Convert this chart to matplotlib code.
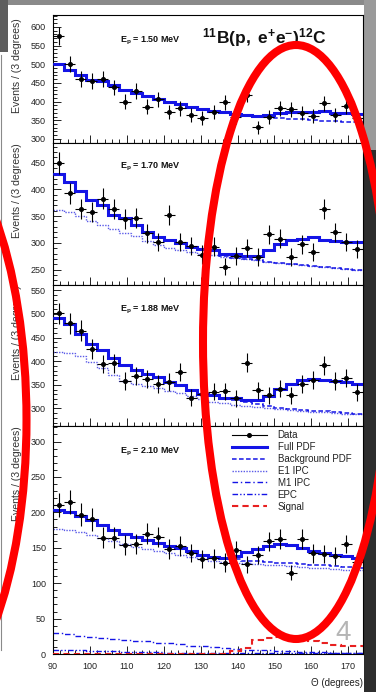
import numpy as np
import matplotlib
matplotlib.use('Agg')
import matplotlib.pyplot as plt
from matplotlib.patches import Ellipse, Rectangle
from matplotlib.lines import Line2D
from matplotlib.ticker import MultipleLocator
from matplotlib.transforms import Bbox, TransformedBbox

plt.rcParams['font.family'] = ['Liberation Sans', 'DejaVu Sans']
plt.rcParams['mathtext.fontset'] = 'custom'
plt.rcParams['mathtext.rm'] = 'Liberation Sans'
plt.rcParams['mathtext.it'] = 'Liberation Sans:italic'
plt.rcParams['mathtext.bf'] = 'Liberation Sans:bold'

# datos (centros de bin de 3 grados)
theta = [91.5, 94.5, 97.5, 100.5, 103.5, 106.5, 109.5, 112.5, 115.5, 118.5,
         121.5, 124.5, 127.5, 130.5, 133.5, 136.5, 139.5, 142.5, 145.5, 148.5,
         151.5, 154.5, 157.5, 160.5, 163.5, 166.5, 169.5, 172.5]
energies = ['1.50', '1.70', '1.88', '2.10']

data_150 = [575, 500, 460, 456, 461, 438, 400, 429, 386, 406, 373, 382, 364, 357,
            373, 398, 360, 418, 331, 358, 382, 379, 369, 361, 395, 364, 388, 355]
err_150 = [24, 22, 21, 21, 21, 21, 20, 21, 20, 20, 19, 20, 19, 19,
           19, 20, 19, 20, 18, 19, 20, 19, 19, 19, 20, 19, 20, 19]
full_150 = [501, 485, 471, 458, 456, 445, 431, 422, 415, 407, 400, 393, 386, 379,
            376, 373, 366, 363, 361, 364, 370, 372, 373, 372, 374, 370, 370, 367]
bkg_150 = [501, 485, 471, 458, 456, 445, 431, 422, 415, 407, 400, 393, 386, 379,
           376, 373, 366, 362, 360, 358, 357, 354, 352, 350, 349, 347, 346, 345]

data_170 = [450, 393, 364, 358, 383, 364, 344, 346, 318, 302, 352, 301, 294, 278,
            293, 255, 275, 291, 274, 316, 308, 273, 297, 283, 363, 320, 302, 288]
err_170 = [21, 20, 19, 19, 20, 19, 19, 19, 18, 17, 19, 17, 17, 17,
           17, 16, 17, 17, 17, 18, 18, 17, 17, 17, 19, 18, 17, 17]
full_170 = [429, 414, 398, 380, 371, 352, 346, 333, 321, 310, 305, 299, 293, 288,
            287, 279, 279, 275, 275, 286, 297, 305, 308, 310, 306, 304, 302, 301]
bkg_170 = [429, 414, 398, 380, 371, 352, 346, 333, 321, 310, 305, 299, 293, 288,
           287, 276, 272, 269, 267, 265, 263, 261, 259, 257, 255, 253, 251, 250]
e1_170 = [362, 358, 350, 341, 334, 325, 319, 312, 303, 296, 291, 287, 283, 279,
          277, 274, 272, 269, 267, 265, 263, 261, 259, 257, 255, 253, 251, 250]

data_188 = [501, 480, 464, 425, 394, 396, 358, 368, 362, 351, 356, 377, 323, 330,
            335, 336, 322, 397, 339, 328, 342, 328, 352, 360, 391, 358, 365, 334]
err_188 = [22, 22, 22, 21, 20, 20, 19, 19, 19, 19, 19, 19, 18, 18,
           18, 18, 18, 20, 18, 18, 18, 18, 19, 19, 20, 19, 19, 18]
full_188 = [492, 478, 458, 437, 423, 406, 392, 382, 373, 366, 356, 349, 340, 330,
            328, 323, 323, 319, 319, 326, 342, 351, 360, 363, 361, 359, 356, 352]
bkg_188 = [492, 478, 458, 437, 423, 406, 392, 382, 373, 366, 356, 349, 340, 330,
           328, 323, 318, 313, 309, 305, 302, 299, 297, 295, 294, 292, 291, 289]
e1_188 = [420, 417, 410, 398, 386, 370, 358, 352, 348, 344, 338, 333, 326, 320,
          314, 311, 308, 305, 303, 301, 299, 297, 295, 293, 292, 290, 289, 288]

data_210 = [210, 215, 197, 190, 164, 164, 154, 155, 170, 165, 148, 152, 143, 134,
            135, 129, 147, 127, 140, 159, 162, 115, 162, 142, 141, 138, 155, 130]
err_210 = [17, 17, 16, 16, 15, 15, 14, 14, 15, 14, 14, 14, 13, 13,
           13, 13, 13, 12, 13, 14, 14, 11, 14, 13, 13, 13, 13, 12]
full_210 = [204, 201, 195, 189, 182, 175, 170, 165, 161, 157, 153, 149, 145, 140,
            137, 136, 139, 144, 148, 152, 155, 154, 150, 146, 143, 140, 138, 136]
bkg_210 = [204, 201, 195, 189, 182, 175, 170, 165, 161, 157, 153, 149, 145, 140,
           137, 135, 134, 132, 131, 130, 129, 128, 127, 126, 125, 124, 123, 122]
e1_210 = [177, 175, 172, 168, 164, 160, 155, 151, 148, 146, 143, 140, 137, 134,
          132, 130, 129, 128, 127, 126, 125, 124, 123, 122, 121, 120, 119, 118]
m1_210 = [30, 28, 26, 24, 23, 21, 20, 19, 18, 16, 15, 14, 12, 11,
          10, 8, 7, 6, 5, 5, 4, 4, 3, 3, 3, 2, 2, 2]
epc_210 = [6, 5, 5, 4, 4, 4, 3, 3, 3, 3, 2, 2, 2, 2,
           2, 2, 1, 1, 1, 1, 1, 1, 1, 1, 1, 1, 1, 1]
signal_210 = [0, 0, 0, 0, 0, 0, 0, 0, 0, 0, 0, 0, 0, 0,
              0, 0, 4, 9, 20, 23, 24, 23, 21, 18, 15, 13, 12, 11]

W, H = 376, 692
BLUE = '#1414e6'
RED = '#e82020'


def fx(px):
    return px / W


def fy(py):
    return 1 - py / H


fig = plt.figure(figsize=(W / 100, H / 100), dpi=100)

# fondo de la foto alrededor de la diapositiva
for (x0, y0, x1, y1, c) in [(0, 0, W, 5, '#8a8a8a'), (0, 0, 8, 52, '#5e5e5e'),
                            (364, 0, W, 150, '#9a9a9a'), (364, 150, W, H, '#2d2d2d')]:
    fig.add_artist(Rectangle((fx(x0), fy(y1)), (x1 - x0) / W, (y1 - y0) / H,
                             transform=fig.transFigure, color=c, lw=0, zorder=-2))
fig.add_artist(Line2D([fx(1.5), fx(1.5)], [fy(55), fy(650)], transform=fig.transFigure,
                      color='#8a8a8a', lw=0.8, zorder=-1))

edges = np.append(np.array(theta) - 1.5, theta[-1] + 1.5)
pads = [(15, 143), (143, 285), (285, 426), (426, 654)]
ylims = [(289, 632), (221, 487), (263, 561), (0, 322)]
datas = [data_150, data_170, data_188, data_210]
errs = [err_150, err_170, err_188, err_210]
fulls = [full_150, full_170, full_188, full_210]
bkgs = [bkg_150, bkg_170, bkg_188, bkg_210]
e1s = [None, e1_170, e1_188, e1_210]
label_y = [0.797, 0.833, 0.823, 0.886]
ylab_off = [98, 95, 95, 95]

dash_bkg = (0, (3, 1.6))
dot_e1 = (0, (1, 1))
dash_m1 = (0, (4, 2, 1, 2))
dash_epc = (0, (4, 1.5, 1, 1.5, 1, 1.5))

axes = []
for i, (top, bot) in enumerate(pads):
    ax = fig.add_axes([fx(53), fy(bot), (363 - 53) / W, (bot - top) / H])
    axes.append(ax)
    ax.set_xlim(90, 174)
    ax.set_ylim(*ylims[i])

    if e1s[i] is not None:
        ax.stairs(e1s[i], edges, baseline=None, color='#5a5ae8', lw=1.0, ls=dot_e1, zorder=2)
    if i == 3:
        ax.stairs(m1_210, edges, baseline=None, color=BLUE, lw=1.0, ls=dash_m1, zorder=2)
        ax.stairs(epc_210, edges, baseline=None, color=BLUE, lw=1.0, ls=dash_epc, zorder=2)
        ax.stairs(signal_210, edges, baseline=None, color=RED, lw=1.5, ls=(0, (3, 2)), zorder=3)
    ax.stairs(bkgs[i], edges, baseline=None, color=BLUE, lw=1.1, ls=dash_bkg, zorder=3)
    ax.stairs(fulls[i], edges, baseline=None, color=BLUE, lw=2.2, zorder=4)
    ax.errorbar(theta, datas[i], yerr=errs[i], xerr=1.5, fmt='o', ms=2.6, color='k',
                elinewidth=0.8, capsize=0, zorder=5)

    ax.xaxis.set_major_locator(MultipleLocator(10))
    ax.xaxis.set_minor_locator(MultipleLocator(2))
    ax.yaxis.set_major_locator(MultipleLocator(50))
    ax.yaxis.set_minor_locator(MultipleLocator(10))
    ax.tick_params(which='both', direction='in', top=False, right=False,
                   width=0.7, colors='#222', labelsize=6.5, pad=5)
    ax.tick_params(which='major', length=5.5)
    ax.tick_params(which='minor', length=2.8)
    ax.tick_params(axis='x', labelbottom=(i == 3), pad=6)
    for s in ax.spines.values():
        s.set_linewidth(0.8)

    ax.text(0.313, label_y[i], r'$\mathbf{E_{p}}$ = ' + energies[i] + ' MeV',
            transform=ax.transAxes, ha='center', va='center', fontsize=6.5,
            fontweight='bold', color='#111')

    # etiqueta del eje y recortada a su pad
    t = fig.text(fx(17), fy(top + ylab_off[i]), 'Events / (3 degrees)', rotation=90,
                 ha='center', va='bottom', fontsize=7.6, color='#333')
    clip_top = 1.0 if i == 0 else fy(top)
    t.set_clip_box(TransformedBbox(Bbox.from_extents(0, fy(bot), fx(53), clip_top),
                                   fig.transFigure))
    t.set_clip_on(True)

# leyenda
handles = [Line2D([0], [0], color='k', marker='o', ms=2.6, lw=0.8),
           Line2D([0], [0], color=BLUE, lw=2.2),
           Line2D([0], [0], color=BLUE, lw=1.1, ls=dash_bkg),
           Line2D([0], [0], color='#5a5ae8', lw=1.0, ls=dot_e1),
           Line2D([0], [0], color=BLUE, lw=1.0, ls=dash_m1),
           Line2D([0], [0], color=BLUE, lw=1.0, ls=dash_epc),
           Line2D([0], [0], color=RED, lw=1.5, ls=(0, (3, 2)))]
labels = ['Data', 'Full PDF', 'Background PDF', 'E1 IPC', 'M1 IPC', 'EPC', 'Signal']
axes[3].legend(handles, labels, loc='upper left', bbox_to_anchor=(0.577, 0.982),
               frameon=False, fontsize=7, handlelength=3.6, handletextpad=1.1,
               labelspacing=0.2, borderpad=0, borderaxespad=0, labelcolor='#222')

fig.text(fx(264), fy(43), r'$\mathbf{{}^{11}B(p,\ e^{+}e^{-})^{12}C}$',
         ha='center', va='baseline', fontsize=12.5, color='#111')
fig.text(fx(363), fy(683), 'Θ (degrees)', ha='right', va='center', fontsize=7, color='#222')
fig.text(fx(343), fy(633), '4', ha='center', va='center', fontsize=20, color='#b5b5b5')

# elipses rojas dibujadas sobre la diapositiva
fig.add_artist(Ellipse((fx(296), fy(342)), 186 / W, 594 / H, transform=fig.transFigure,
                       fill=False, ec='#ff0000', lw=5.8, zorder=20))
fig.add_artist(Ellipse((fx(-84), fy(420)), 221 / W, 580 / H, transform=fig.transFigure,
                       fill=False, ec='#ff0000', lw=5.8, zorder=20))

fig.savefig('out.png', dpi=100)
